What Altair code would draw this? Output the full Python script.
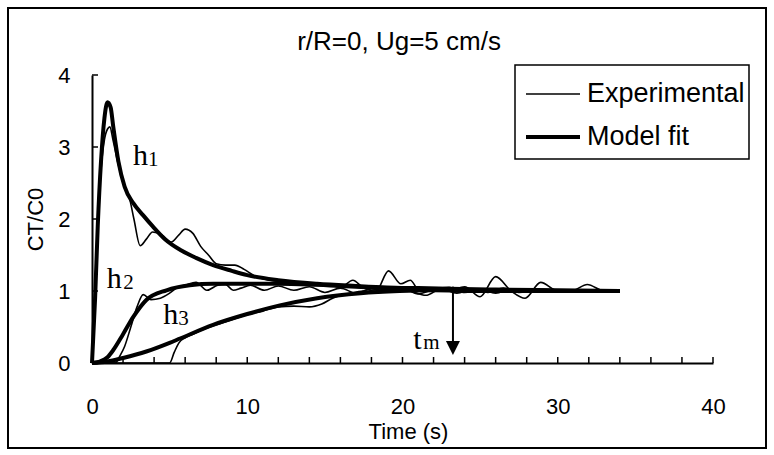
import altair as alt
import pandas as pd

# ---------------- data ----------------
# Experimental (thin) curves
t_exp_h1 = [0, 0.3, 0.55, 0.8, 1.0, 1.15, 1.35, 1.7, 2.1, 2.4, 2.7, 3.1, 3.5, 3.9, 4.5, 5.1, 5.6, 6.0, 6.5, 7.0,
            7.5, 8.0, 8.6, 9.2, 9.8, 10.4, 11.0, 12.0, 13.0, 14.0, 15.0, 16.0, 16.8, 17.5, 18.3, 19.1, 19.9, 20.5,
            21.1, 22.0, 23.0, 24.0, 25.0, 26.0, 27.0, 27.9, 28.9, 30.0, 31.0, 31.9, 33.0, 34.0]
y_exp_h1 = [0, 1.6, 2.6, 3.1, 3.25, 3.28, 3.1, 2.75, 2.45, 2.3, 2.0, 1.63, 1.72, 1.82, 1.78, 1.68, 1.78, 1.86, 1.8, 1.62,
            1.5, 1.38, 1.36, 1.36, 1.3, 1.22, 1.17, 1.13, 1.1, 1.08, 1.1, 1.05, 1.15, 1.04, 1.0, 1.28, 1.1, 1.15,
            1.0, 1.03, 1.0, 1.06, 0.92, 1.2, 1.0, 0.9, 1.12, 1.0, 1.01, 1.09, 1.0, 1.0]

t_exp_h2 = [0, 1.0, 1.5, 1.8, 2.1, 2.5, 2.9, 3.3, 3.8, 4.4, 5.0, 5.5, 6.0, 6.7, 7.4, 8.1, 8.6, 9.1, 9.6, 10.2,
            11.1, 12.0, 13.0, 14.0, 15.0, 16.0, 17.0, 18.0, 19.0, 20.0, 21.0, 22.0, 23.0, 24.0, 25.0, 26.0,
            27.0, 28.0, 29.0, 30.0]
y_exp_h2 = [0, 0, 0.0, 0.1, 0.23, 0.5, 0.78, 0.95, 0.88, 0.9, 0.97, 1.05, 1.08, 1.12, 1.01, 1.08, 1.09, 1.01, 1.04, 1.08,
            1.01, 1.07, 1.01, 1.06, 0.98, 1.04, 0.97, 1.03, 1.0, 1.04, 0.96, 1.02, 1.05, 0.98, 1.03, 0.97,
            1.03, 0.99, 1.02, 1.0]

t_exp_h3 = [0, 4.8, 5.0, 5.3, 5.6, 6.0, 6.5, 7.0, 8.0, 9.0, 10.0, 11.0, 12.0, 13.0, 14.0, 14.8, 15.5, 16.5, 17.5,
            18.5, 19.5, 20.5, 21.5, 22.5, 23.5, 24.5, 25.5, 26.5, 27.5, 28.5, 29.5]
y_exp_h3 = [0, 0, 0.0, 0.15, 0.28, 0.35, 0.4, 0.45, 0.53, 0.6, 0.67, 0.72, 0.78, 0.79, 0.78, 0.82, 0.9, 0.96, 1.0,
            0.98, 1.03, 1.0, 0.94, 1.03, 0.97, 1.02, 0.98, 1.04, 0.98, 1.01, 1.0]

# Model fits (thick) curves
t_fit_h1 = [0, 0.2, 0.37, 0.58, 0.8, 1.0, 1.2, 1.37, 1.7, 2.1, 2.66, 3.3, 3.9, 4.7, 5.7, 6.7, 7.8, 9.0, 10.0,
            12.0, 14.5, 17.0, 19.0, 21.0, 23.0, 26.0, 30.0, 34.0]
y_fit_h1 = [0, 0.9, 1.9, 2.8, 3.4, 3.62, 3.55, 3.28, 2.8, 2.45, 2.22, 2.05, 1.9, 1.72, 1.57, 1.46, 1.36, 1.28, 1.22,
            1.15, 1.1, 1.07, 1.05, 1.04, 1.03, 1.02, 1.01, 1.0]

t_fit_h2 = [0, 0.5, 1.0, 1.37, 2.0, 2.66, 3.5, 4.8, 6.3, 7.8, 10.0, 12.0, 14.0, 16.0, 18.0, 20.0, 22.0, 25.0, 30.0, 34.0]
y_fit_h2 = [0, 0.02, 0.08, 0.18, 0.4, 0.64, 0.875, 1.01, 1.08, 1.1, 1.1, 1.1, 1.09, 1.07, 1.05, 1.03, 1.02, 1.01, 1.0, 1.0]

t_fit_h3 = [0, 1.0, 2.0, 3.5, 5.0, 5.67, 7.8, 10.0, 12.1, 14.5, 17.3, 19.8, 22.0, 25.0, 30.0, 34.0]
y_fit_h3 = [0, 0.02, 0.07, 0.16, 0.28, 0.34, 0.53, 0.68, 0.8, 0.9, 0.97, 1.0, 1.01, 1.0, 1.0, 1.0]

# annotation labels (main letter + subscript) and their data positions
ann_main = ["h", "h", "h", "t"]
ann_sub = ["1", "2", "3", "m"]
ann_t = [2.64, 0.95, 4.59, 20.7]
ann_v = [2.75, 1.04, 0.54, 0.2]
ann_sub_t = [3.6, 2.02, 5.56, 21.34]
ann_sub_v = [2.74, 1.03, 0.53, 0.19]

# tm arrow
arrow_t = 23.25
arrow_top = 1.06
arrow_tip = 0.21

x_ticks = list(range(0, 41, 2))
y_ticks = [0, 1, 2, 3, 4]
x_labels = [0, 10, 20, 30, 40]

title_text = "r/R=0, Ug=5 cm/s"
legend_labels = ["Experimental", "Model fit"]

# ---------------- build tables ----------------
rows = []
for name, kind, ts, ys in [
    ("h1", "exp", t_exp_h1, y_exp_h1), ("h2", "exp", t_exp_h2, y_exp_h2), ("h3", "exp", t_exp_h3, y_exp_h3),
    ("h1", "fit", t_fit_h1, y_fit_h1), ("h2", "fit", t_fit_h2, y_fit_h2), ("h3", "fit", t_fit_h3, y_fit_h3),
]:
    for t, v in zip(ts, ys):
        rows.append({"t": t, "v": v, "series": name + kind, "kind": kind})
df = pd.DataFrame(rows)
df_exp = df[df.kind == "exp"]
df_fit = df[df.kind == "fit"]

W, H = 621, 288
SANS = "Liberation Sans"
SERIF = "Liberation Serif"

xs = alt.Scale(domain=[0, 40], nice=False, zero=False)
ys_ = alt.Scale(domain=[0, 4], nice=False)
x_enc = alt.X("t:Q", scale=xs, title="Time (s)",
              axis=alt.Axis(values=x_labels, ticks=False, grid=False, domainColor="black", domainWidth=2,
                            labelFont=SANS, labelFontSize=22, labelColor="black", labelPadding=33,
                            labelFlush=False, titleFont=SANS, titleFontSize=22, titleFontWeight="normal",
                            titleColor="black", titleY=68, titleX=316, titleBaseline="middle"))
y_enc = alt.Y("v:Q", scale=ys_, title="CT/C0",
              axis=alt.Axis(values=y_ticks, ticks=False, grid=False, domainColor="black", domainWidth=2,
                            labelFont=SANS, labelFontSize=22, labelColor="black", labelPadding=22,
                            labelFlush=False, titleFont=SANS, titleFontSize=22, titleFontWeight="normal",
                            titleColor="black", titleX=-57, titleY=H / 2, titleBaseline="middle",
                            titleAlign="center"))

one = pd.DataFrame({"a": [0]})

frame = alt.Chart(one).mark_rect(fill=None, stroke="black", strokeWidth=2).encode(
    x=alt.value(-84), x2=alt.value(674), y=alt.value(-67), y2=alt.value(373))

title = alt.Chart(pd.DataFrame({"txt": [title_text]})).mark_text(
    font=SANS, fontSize=26, align="center", baseline="alphabetic", color="black").encode(
    x=alt.value(307), y=alt.value(-25), text="txt:N")

thin = alt.Chart(df_exp).mark_line(color="black", strokeWidth=1.6, interpolate="monotone").encode(
    x=x_enc, y=y_enc, detail="series:N")
thick = alt.Chart(df_fit).mark_line(color="black", strokeWidth=4, interpolate="monotone").encode(
    x=x_enc, y=y_enc, detail="series:N")

xt = alt.Chart(pd.DataFrame({"t": x_ticks})).mark_rule(color="black", strokeWidth=1.5).encode(
    x=x_enc, y=alt.value(H), y2=alt.value(H - 6))
yt = alt.Chart(pd.DataFrame({"v": y_ticks})).mark_rule(color="black", strokeWidth=1.5).encode(
    y=y_enc, x=alt.value(0), x2=alt.value(6))

ann = pd.DataFrame({"t": ann_t, "v": ann_v, "txt": ann_main})
ann_s = pd.DataFrame({"t": ann_sub_t, "v": ann_sub_v, "txt": ann_sub})
ann_layer = alt.Chart(ann).mark_text(font=SERIF, fontSize=30, align="left", baseline="alphabetic",
                                     color="black").encode(x=x_enc, y=y_enc, text="txt:N")
ann_sub_layer = alt.Chart(ann_s).mark_text(font=SERIF, fontSize=21, align="left", baseline="alphabetic",
                                           color="black").encode(x=x_enc, y=y_enc, text="txt:N")

arrow_df = pd.DataFrame({"t": [arrow_t], "v": [arrow_top], "v2": [arrow_tip + 0.08]})
arrow_line = alt.Chart(arrow_df).mark_rule(color="black", strokeWidth=2).encode(
    x=x_enc, y=y_enc, y2="v2:Q")
head_df = pd.DataFrame({"t": [arrow_t], "v": [arrow_tip]})
arrow_head = alt.Chart(head_df).mark_point(shape="M-1,-1L1,-1L0,1Z", filled=True, fill="black",
                                          stroke=None, size=196, opacity=1).encode(x=x_enc, y=y_enc)

# legend (drawn manually)
leg_box = alt.Chart(one).mark_rect(fill="white", stroke="black", strokeWidth=1.5).encode(
    x=alt.value(423), x2=alt.value(657), y=alt.value(-10), y2=alt.value(84))
leg_l1 = alt.Chart(one).mark_rule(color="black", strokeWidth=1.6).encode(
    x=alt.value(434), x2=alt.value(488), y=alt.value(19))
leg_l2 = alt.Chart(one).mark_rule(color="black", strokeWidth=4).encode(
    x=alt.value(434), x2=alt.value(488), y=alt.value(62))
leg_t = alt.Chart(pd.DataFrame({"lab": legend_labels, "yy": [19, 62]})).mark_text(
    font=SANS, fontSize=27, align="left", baseline="middle", color="black").encode(
    x=alt.value(495), y=alt.Y("yy:Q", scale=None), text="lab:N")

chart = alt.layer(
    thin, thick, xt, yt, ann_layer, ann_sub_layer, arrow_line, arrow_head,
    leg_box, leg_l1, leg_l2, leg_t, title, frame
).properties(
    width=W, height=H,
    autosize=alt.AutoSizeParams(type="none"),
    padding={"left": 92, "top": 75, "right": 61, "bottom": 92},
    background="white",
).configure_view(stroke=None)

chart.save("out.html", embed_options={"renderer": "svg", "actions": False})
